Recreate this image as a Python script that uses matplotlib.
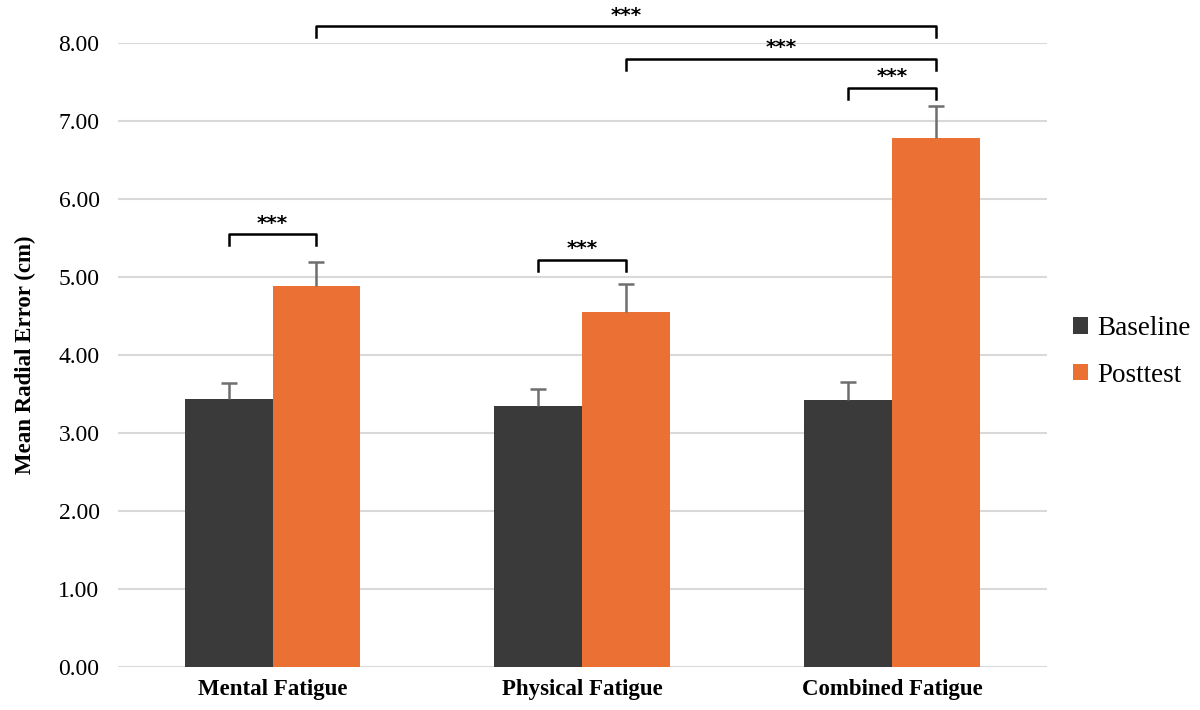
import matplotlib.pyplot as plt
import numpy as np

categories = ["Mental Fatigue", "Physical Fatigue", "Combined Fatigue"]
baseline = [3.44, 3.35, 3.42]
baseline_err = [0.20, 0.21, 0.23]
posttest = [4.88, 4.55, 6.78]
posttest_err = [0.31, 0.36, 0.41]

# (left bar, right bar, bracket height) ; bars as (category, series 0/1)
brackets = [((0, 0), (0, 1), 5.55), ((1, 0), (1, 1), 5.22), ((2, 0), (2, 1), 7.43),
            ((1, 1), (2, 1), 7.80), ((0, 1), (2, 1), 8.22)]

plt.rcParams['font.family'] = ['Liberation Serif', 'DejaVu Serif']

fig = plt.figure(figsize=(12, 7.1), dpi=100)
ax = fig.add_axes([0.098, 0.0606, 0.7745, 0.8785])

x = np.arange(len(categories))
w = 0.284
ax.bar(x - w / 2, baseline, w, color="#3a3a3a", label="Baseline", zorder=2)
ax.bar(x + w / 2, posttest, w, color="#ea7033", label="Posttest", zorder=2)

# upper-only error bars
for xs, vals, errs in [(x - w / 2, baseline, baseline_err), (x + w / 2, posttest, posttest_err)]:
    tops = np.array(vals) + np.array(errs)
    ax.vlines(xs, vals, tops, color="#6e6e6e", lw=1.8, zorder=3)
    ax.scatter(xs, tops, marker="_", s=140, color="#6e6e6e", linewidths=1.8, zorder=3)

for (c1, s1), (c2, s2), h in brackets:
    x1 = c1 + (s1 - 0.5) * w
    x2 = c2 + (s2 - 0.5) * w
    ax.plot([x1, x1, x2, x2], [h - 0.14, h, h, h - 0.14], color="black", lw=1.8,
            clip_on=False, zorder=4, solid_joinstyle="round")
    ax.text((x1 + x2) / 2, h + 0.02, "***", ha="center", va="bottom", fontsize=14.5,
            family="DejaVu Sans", fontweight="bold")

ax.set_xlim(-0.5, 2.5)
ax.set_ylim(0, 8)
ax.set_yticks(np.arange(0, 9, 1))
ax.set_yticklabels([f"{v:.2f}" for v in range(9)], fontsize=17)
ax.set_xticks(x)
ax.set_xticklabels(categories, fontsize=16.5, fontweight="bold")
ax.tick_params(length=0)
ax.tick_params(axis="y", pad=13)
ax.tick_params(axis="x", pad=9)
ax.grid(axis="y", color="#d9d9d9", lw=1.5, zorder=0)
for s in ax.spines.values():
    s.set_visible(False)
ax.set_ylabel("Mean Radial Error (cm)", fontsize=16.5, fontweight="bold", labelpad=16)

ax.legend(loc="center left", bbox_to_anchor=(1.002, 0.505), frameon=False, fontsize=19.5,
          handlelength=0.55, handleheight=0.55, handletextpad=0.35, labelspacing=0.8)

fig.savefig("out.png", dpi=100)
